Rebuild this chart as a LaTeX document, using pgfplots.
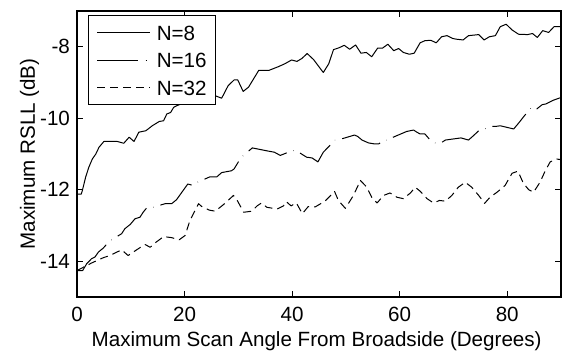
\documentclass[border=0pt]{standalone}
\usepackage{fontspec}
\setmainfont{Liberation Sans}
\usepackage{pgfplots}
\pgfplotsset{compat=1.18}
\newcommand{\chartfont}{\fontsize{10.3}{12.3}\selectfont}
\begin{document}
\begin{tikzpicture}
\begin{axis}[
  scale only axis, width=242pt, height=143pt,
  xmin=0, xmax=90, ymin=-15, ymax=-7,
  xtick={0,20,40,60,80}, xticklabels={0,20,40,60,80},
  ytick={-14,-12,-10,-8}, yticklabels={-14,-12,-10,-8},
  tick align=inside, major tick length=2.8pt,
  axis line style={line width=0.7pt},
  every tick/.style={black, line width=0.5pt},
  tick label style={font=\chartfont},
  xticklabel style={yshift=-1.5pt},
  label style={font=\chartfont},
  xlabel={Maximum Scan Angle From Broadside (Degrees)},
  ylabel={Maximum RSLL (dB)},
  xlabel style={at={(axis description cs:0.4952,0)}, anchor=base, yshift=-24.85pt},
  ylabel style={at={(axis description cs:-0.087,0.5)}, anchor=base},
  legend style={at={(0.0221,0.986)}, anchor=north west, draw=black, line width=0.7pt,
    fill=white, font=\chartfont, inner xsep=4.3pt, inner ysep=4.8pt,
    row sep=6.35pt, column sep=2.9pt,
    nodes={inner sep=0pt, text height=7.4pt, text depth=0pt}, cells={anchor=west}},
  legend image code/.code={\draw[#1,line width=0.5pt] (0pt,0pt) -- (26.5pt,0pt);},
]
\addplot[black, line width=0.5pt, line join=round] coordinates {
(0,-12.12) (0.8,-12.12) (1.0,-12.02) (1.6,-11.65) (2.2,-11.37) (2.85,-11.14) (3.5,-11.0) (4.1,-10.81)
(5.0,-10.65) (7.5,-10.65) (8.7,-10.7) (9.7,-10.53) (10.6,-10.65) (11.5,-10.39) (12.8,-10.35) (14.0,-10.21)
(15.3,-10.09) (16.1,-10.07) (16.7,-9.88) (17.4,-9.84) (18.0,-9.69) (19.0,-9.62) (21.5,-9.5) (23.5,-9.42)
(25.7,-9.37) (26.9,-9.44) (28.1,-9.09) (29.2,-8.93) (29.9,-8.93) (30.9,-9.25) (31.9,-9.13) (33.8,-8.66)
(35.7,-8.66) (37.4,-8.56) (38.6,-8.48) (39.9,-8.37) (40.9,-8.41) (41.8,-8.33) (42.8,-8.19) (44.0,-8.36)
(45.8,-8.72) (46.8,-8.48) (47.7,-8.08) (48.7,-8.03) (49.7,-7.96) (50.7,-8.07) (51.8,-7.95) (52.8,-8.18)
(53.8,-8.16) (54.8,-8.28) (55.9,-8.04) (56.8,-8.04) (57.8,-7.93) (58.9,-8.11) (59.8,-8.05) (60.7,-8.16)
(61.8,-8.21) (62.7,-8.18) (63.8,-7.89) (64.7,-7.83) (65.8,-7.82) (66.8,-7.89) (67.8,-7.72) (68.8,-7.69)
(69.9,-7.77) (70.6,-7.79) (71.8,-7.81) (72.8,-7.69) (74.7,-7.66) (75.7,-7.81) (76.7,-7.72) (77.8,-7.69)
(78.7,-7.44) (79.8,-7.37) (80.9,-7.53) (82.1,-7.65) (83.8,-7.66) (84.7,-7.63) (85.6,-7.74) (86.6,-7.55)
(87.7,-7.6) (88.7,-7.44) (90,-7.44)
};
\addlegendentry{N=8}
\addplot[black, line width=0.5pt, line join=round, dash pattern=on 20.5pt off 3.6pt on 0.15pt off 3.6pt] coordinates {
(0,-14.26) (1.05,-14.26) (1.8,-14.07) (2.7,-13.93) (3.35,-13.88) (4.0,-13.74) (4.9,-13.63) (6.0,-13.44)
(8.3,-13.23) (8.9,-13.09) (9.9,-12.97) (10.8,-12.81) (11.7,-12.77) (12.3,-12.63) (13.0,-12.5) (13.9,-12.5)
(16.4,-12.39) (17.6,-12.39) (18.5,-12.28) (19.5,-12.07) (20.6,-11.84) (21.6,-11.88) (22.4,-11.79)
(24.7,-11.64) (26.0,-11.64) (26.9,-11.52) (28.7,-11.47) (29.2,-11.42) (30.5,-11.1)
(32.6,-10.83) (35.6,-10.92) (36.7,-10.95) (37.8,-11.04) (39.3,-10.95) (40.6,-10.89)
(42.7,-11.09) (43.7,-11.11) (44.8,-11.22) (45.8,-10.95) (47.1,-10.75) (47.9,-10.61) (48.5,-10.61)
(51.6,-10.47) (52.2,-10.51) (53.0,-10.61) (54.2,-10.69) (55.4,-10.72) (56.1,-10.72) (57.0,-10.61)
(57.9,-10.61) (58.8,-10.53) (61.3,-10.37) (62.6,-10.33) (63.2,-10.39) (63.8,-10.44) (64.7,-10.44)
(65.9,-10.65) (66.6,-10.69) (67.7,-10.69) (68.5,-10.61) (71.4,-10.55) (72.8,-10.61) (73.7,-10.49)
(74.7,-10.35) (75.6,-10.32) (76.7,-10.23) (77.8,-10.23) (78.7,-10.21) (81.2,-10.3) (82.1,-10.14)
(83.2,-9.93) (84.6,-9.68) (85.5,-9.74) (86.5,-9.62) (87.2,-9.6) (88.5,-9.5) (90,-9.42)
};
\addlegendentry{N=16}
\addplot[black, line width=0.5pt, line join=round, dash pattern=on 4pt off 2.5pt] coordinates {
(0,-14.26) (2.7,-14.05) (4.9,-13.9) (6.1,-13.84) (8.3,-13.68) (9.5,-13.84) (10.5,-13.74) (11.7,-13.62)
(12.65,-13.53) (13.6,-13.61) (14.5,-13.49) (16.1,-13.31) (17.6,-13.34) (19.0,-13.4) (20.1,-13.28)
(21.0,-12.86) (22.6,-12.39) (23.2,-12.47) (24.6,-12.57) (25.7,-12.6) (27.2,-12.42) (29.1,-12.16)
(29.8,-12.3) (31.0,-12.63) (32.5,-12.6) (33.5,-12.45) (34.3,-12.37) (35.3,-12.49) (37.2,-12.54)
(38.4,-12.45) (38.9,-12.33) (39.8,-12.45) (40.8,-12.37) (41.9,-12.67) (43.0,-12.47) (44.3,-12.48)
(46.1,-12.32) (47.9,-12.05) (48.6,-12.3) (49.9,-12.52) (51.4,-12.16) (52.7,-11.74) (53.9,-11.93)
(54.8,-12.21) (55.8,-12.37) (57.0,-12.16) (58.2,-12.09) (59.5,-12.21) (60.7,-12.25) (62.0,-12.09)
(62.9,-11.93) (63.8,-12.04) (65.1,-12.25) (66.3,-12.37) (67.4,-12.3) (68.5,-12.32) (69.7,-12.16)
(70.9,-11.93) (72.2,-11.79) (73.4,-11.93) (74.7,-12.16) (75.8,-12.38) (76.8,-12.21) (78.1,-12.07)
(79.6,-11.88) (80.9,-11.54) (82.0,-11.48) (83.0,-11.82) (84.0,-12.0) (84.9,-12.07) (86.1,-11.79)
(87.1,-11.46) (88.0,-11.22) (89.2,-11.14) (90,-11.16)
};
\addlegendentry{N=32}
\end{axis}
\pgfresetboundingbox
\path ([shift={(-38.5pt,-28.5pt)}]current axis.south west) rectangle ([shift={(1pt,5.5pt)}]current axis.north east);
\end{tikzpicture}
\end{document}
